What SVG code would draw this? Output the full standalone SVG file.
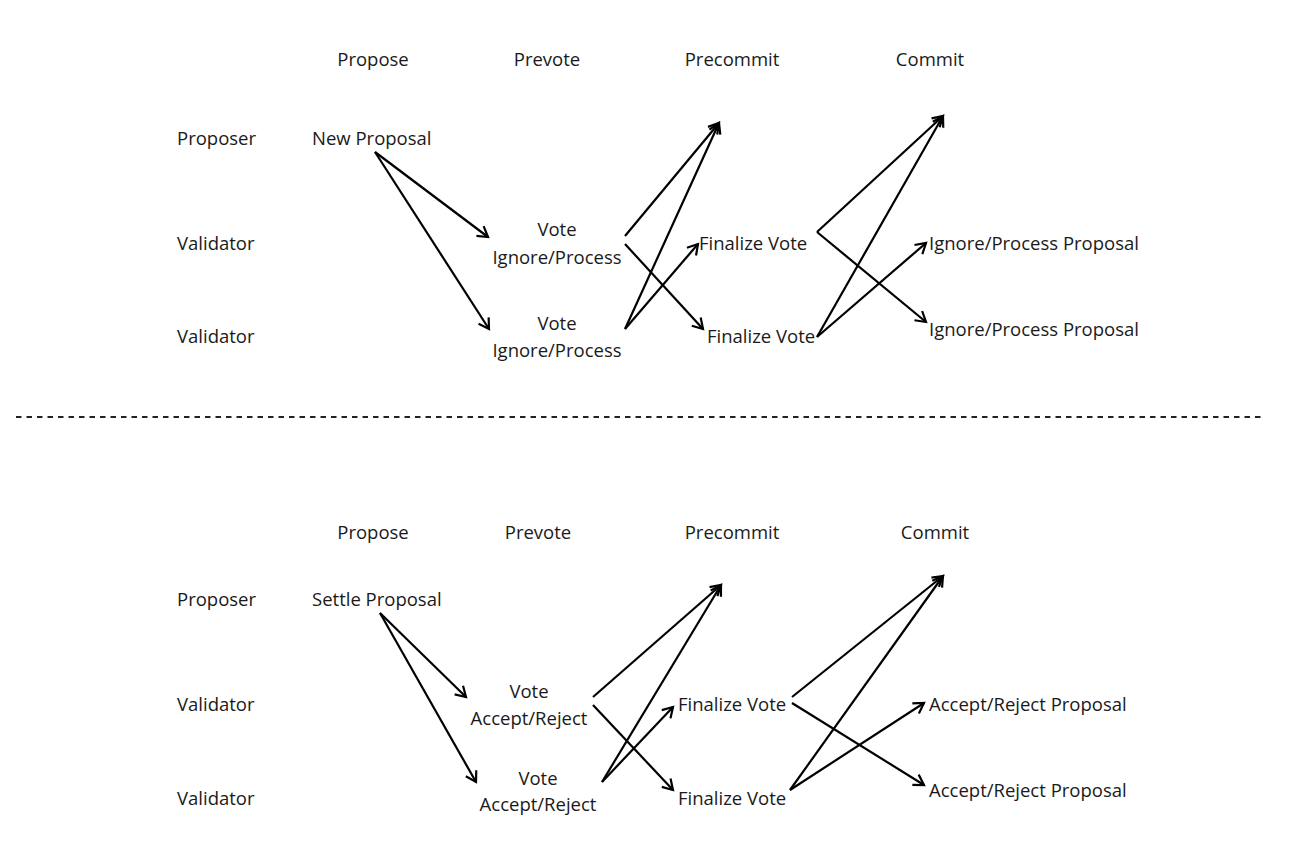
<svg xmlns="http://www.w3.org/2000/svg" width="1296" height="860" viewBox="0 0 1296 860">
<defs>
<style>
text{font-family:"Open Sans","Noto Sans","Liberation Sans",sans-serif;font-size:18.5px;fill:#1a1a1a;dominant-baseline:central}
.m{text-anchor:middle}
.c{stroke:#000;stroke-width:2.2;fill:none;marker-end:url(#ah)}
</style>
<marker id="ah" markerUnits="userSpaceOnUse" markerWidth="16" markerHeight="16" refX="12" refY="7" orient="auto" viewBox="0 0 16 14">
<path d="M2,1 L12,7 L2,13" fill="none" stroke="#000" stroke-width="2.2"/>
</marker>
</defs>
<rect width="1296" height="860" fill="#fff"/>
<g id="headers-top">
<text class="m" x="373" y="58">Propose</text>
<text class="m" x="547" y="58">Prevote</text>
<text class="m" x="732" y="58">Precommit</text>
<text class="m" x="930" y="58">Commit</text>
</g>
<g id="rows-top">
<text x="177" y="137">Proposer</text>
<text x="177" y="242">Validator</text>
<text x="177" y="335">Validator</text>
</g>
<g id="new-proposal"><text x="312" y="137">New Proposal</text></g>
<g id="vote-t1"><text class="m" x="557" y="228">Vote</text><text class="m" x="557" y="256">Ignore/Process</text></g>
<g id="vote-t2"><text class="m" x="557" y="322">Vote</text><text class="m" x="557" y="349">Ignore/Process</text></g>
<g id="finalize-t1"><text x="699" y="242">Finalize Vote</text></g>
<g id="finalize-t2"><text x="707" y="335">Finalize Vote</text></g>
<g id="result-t1"><text x="929" y="242">Ignore/Process Proposal</text></g>
<g id="result-t2"><text x="929" y="328">Ignore/Process Proposal</text></g>
<line x1="16" y1="417" x2="1262" y2="417" stroke="#222" stroke-width="2.2" stroke-dasharray="5.5 5"/>
<g id="headers-bottom">
<text class="m" x="373" y="531">Propose</text>
<text class="m" x="538" y="531">Prevote</text>
<text class="m" x="732" y="531">Precommit</text>
<text class="m" x="935" y="531">Commit</text>
</g>
<g id="rows-bottom">
<text x="177" y="598">Proposer</text>
<text x="177" y="703">Validator</text>
<text x="177" y="797">Validator</text>
</g>
<g id="settle-proposal"><text x="312" y="598">Settle Proposal</text></g>
<g id="vote-b1"><text class="m" x="529" y="690">Vote</text><text class="m" x="529" y="717">Accept/Reject</text></g>
<g id="vote-b2"><text class="m" x="538" y="777">Vote</text><text class="m" x="538" y="803">Accept/Reject</text></g>
<g id="finalize-b1"><text x="678" y="703">Finalize Vote</text></g>
<g id="finalize-b2"><text x="678" y="797">Finalize Vote</text></g>
<g id="result-b1"><text x="929" y="703">Accept/Reject Proposal</text></g>
<g id="result-b2"><text x="929" y="789">Accept/Reject Proposal</text></g>
<g id="connectors">
<path class="c" d="M375,152 L488,237"/>
<path class="c" d="M375,152 L489,329"/>
<path class="c" d="M625,236 L719,123"/>
<path class="c" d="M625,244 L703,329"/>
<path class="c" d="M625,329 L719,123"/>
<path class="c" d="M625,329 L698,244"/>
<path class="c" d="M817,232 L943,116"/>
<path class="c" d="M817,232 L926,322"/>
<path class="c" d="M817,337 L943,116"/>
<path class="c" d="M817,337 L926,243"/>
<path class="c" d="M380,613 L466,697"/>
<path class="c" d="M380,613 L476,782"/>
<path class="c" d="M593,697 L721,585"/>
<path class="c" d="M593,705 L673,790"/>
<path class="c" d="M602,782 L721,585"/>
<path class="c" d="M602,782 L673,707"/>
<path class="c" d="M792,697 L943,576"/>
<path class="c" d="M792,703 L924,785"/>
<path class="c" d="M790,790 L943,576"/>
<path class="c" d="M790,790 L924,703"/>
</g>
</svg>
